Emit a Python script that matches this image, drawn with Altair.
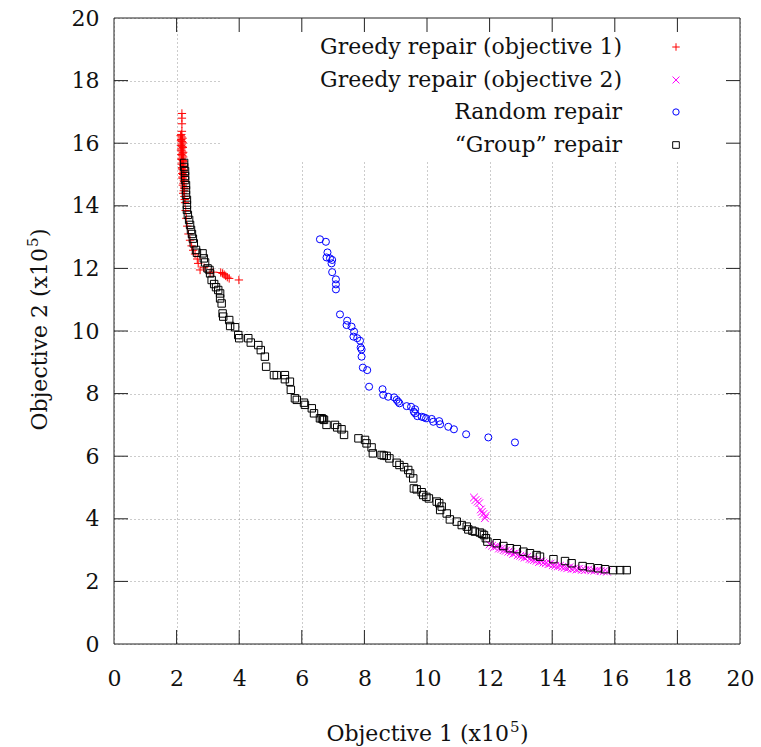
import altair as alt
import pandas as pd

# Pareto fronts (both objectives in units of 1e5)
greedy_obj1 = [
    (2.17, 16.95), (2.17, 16.80), (2.17, 16.62), (2.17, 16.38), (2.15, 16.28), (2.16, 16.20),
    (2.15, 16.12), (2.17, 16.05), (2.16, 15.97), (2.18, 15.90), (2.15, 15.82), (2.17, 15.75),
    (2.19, 15.68), (2.18, 15.60), (2.16, 15.52), (2.20, 15.45), (2.19, 15.37), (2.21, 15.30),
    (2.18, 15.22), (2.20, 15.15), (2.22, 15.07), (2.21, 15.00), (2.19, 14.92), (2.23, 14.82),
    (2.22, 14.72), (2.24, 14.60), (2.23, 14.48), (2.25, 14.30), (2.27, 14.10), (2.29, 13.85),
    (2.31, 13.60), (2.34, 13.35), (2.38, 13.10), (2.43, 12.90), (2.48, 12.72), (2.53, 12.58),
    (2.59, 12.46), (2.66, 12.30), (2.69, 12.16), (2.75, 11.95), (2.88, 12.02), (3.07, 11.86),
    (3.17, 11.88), (3.41, 11.87), (3.47, 11.84), (3.52, 11.80), (3.57, 11.76), (3.62, 11.72),
    (3.68, 11.68), (3.99, 11.63),
    (2.13, 16.24), (2.19, 16.16), (2.14, 16.08), (2.20, 16.01), (2.14, 15.93), (2.20, 15.86),
    (2.14, 15.78), (2.21, 15.71), (2.15, 15.64), (2.21, 15.56), (2.16, 15.48), (2.22, 15.41),
    (2.16, 15.33), (2.23, 15.26), (2.17, 15.18), (2.23, 15.11), (2.18, 15.03), (2.24, 14.96),
    (2.19, 14.88), (2.24, 14.78), (2.20, 14.66), (2.25, 14.55), (2.21, 14.40), (2.26, 14.20),
]

greedy_obj2 = [
    (11.50, 4.68), (11.55, 4.60), (11.62, 4.55), (11.67, 4.50), (11.72, 4.30), (11.75, 4.22),
    (11.80, 4.15), (11.88, 4.10), (11.85, 4.02),
    (12.00, 3.18), (12.08, 3.14), (12.15, 3.10), (12.22, 3.12), (12.30, 3.05), (12.38, 3.04),
    (12.45, 3.00), (12.52, 2.98), (12.60, 2.95), (12.68, 2.93), (12.75, 2.88), (12.82, 2.90),
    (12.90, 2.84), (12.98, 2.82), (13.05, 2.80), (13.12, 2.76), (13.20, 2.78), (13.28, 2.72),
    (13.35, 2.70), (13.42, 2.68), (13.50, 2.66), (13.58, 2.62), (13.65, 2.64), (13.72, 2.60),
    (13.80, 2.58), (13.88, 2.55), (13.95, 2.57), (14.02, 2.52), (14.10, 2.50), (14.18, 2.48),
    (14.25, 2.50), (14.32, 2.46), (14.40, 2.44), (14.48, 2.42), (14.55, 2.45), (14.62, 2.40),
    (14.70, 2.41), (14.78, 2.38), (14.85, 2.40), (14.95, 2.37), (15.05, 2.36), (15.15, 2.38),
    (15.25, 2.35), (15.35, 2.34), (15.45, 2.36), (15.55, 2.33), (15.65, 2.32), (15.75, 2.31),
]

random_repair = [
    (6.58, 12.93), (6.77, 12.85), (6.82, 12.51), (6.79, 12.35), (6.90, 12.32), (6.97, 12.27),
    (6.95, 12.16), (6.97, 11.88), (7.09, 11.65), (7.09, 11.49), (7.09, 11.33), (7.22, 10.53),
    (7.45, 10.33), (7.43, 10.19), (7.59, 10.14), (7.67, 9.98), (7.65, 9.82), (7.77, 9.77),
    (7.86, 9.69), (7.88, 9.47), (7.91, 9.41), (7.91, 9.18), (7.95, 8.83), (8.09, 8.75),
    (8.15, 8.22), (8.58, 8.14), (8.60, 7.96), (8.76, 7.90), (8.95, 7.88), (9.03, 7.80),
    (9.08, 7.74), (9.12, 7.69), (9.35, 7.60), (9.49, 7.58), (9.62, 7.50), (9.58, 7.42),
    (9.62, 7.37), (9.69, 7.28), (9.83, 7.26), (9.90, 7.24), (9.97, 7.21), (10.15, 7.19),
    (10.20, 7.10), (10.39, 7.12), (10.42, 7.02), (10.68, 6.94), (10.86, 6.86), (11.25, 6.70),
    (11.96, 6.60), (12.81, 6.44),
]

group_repair = [
    (2.24, 15.37), (2.24, 15.24), (2.27, 15.11), (2.27, 14.95), (2.27, 14.82), (2.30, 14.66),
    (2.30, 14.50), (2.30, 14.35), (2.33, 14.19), (2.33, 14.03), (2.33, 13.87), (2.36, 13.71),
    (2.40, 13.55), (2.43, 13.39), (2.46, 13.23), (2.49, 13.10), (2.52, 12.95), (2.55, 12.80),
    (2.62, 12.59), (2.65, 12.50), (2.83, 12.48), (2.87, 12.32), (2.91, 12.19), (2.99, 12.00),
    (3.05, 11.95), (3.07, 11.84), (3.12, 11.63), (3.20, 11.50), (3.26, 11.40), (3.33, 11.31),
    (3.39, 11.20), (3.39, 11.04), (3.44, 10.88), (3.47, 10.56), (3.49, 10.46), (3.68, 10.35),
    (3.71, 10.16), (3.87, 10.12), (3.97, 9.87), (4.00, 9.77), (4.29, 9.77), (4.37, 9.63),
    (4.61, 9.55), (4.69, 9.39), (4.82, 9.18), (4.86, 8.86), (5.11, 8.59), (5.20, 8.59),
    (5.46, 8.59), (5.46, 8.46), (5.62, 8.38), (5.65, 8.12), (5.78, 7.85), (5.84, 7.80),
    (6.07, 7.71), (6.10, 7.64), (6.32, 7.53), (6.39, 7.37), (6.58, 7.21), (6.64, 7.21),
    (6.68, 7.18), (6.71, 7.16), (6.79, 7.00), (7.06, 7.00), (7.13, 6.92), (7.27, 6.86),
    (7.35, 6.68), (7.81, 6.57), (8.02, 6.52), (8.07, 6.41), (8.23, 6.28), (8.27, 6.09),
    (8.55, 6.04), (8.62, 6.02), (8.71, 6.01), (8.80, 5.93), (9.03, 5.79), (9.12, 5.72),
    (9.27, 5.65), (9.40, 5.56), (9.46, 5.45), (9.56, 5.29), (9.58, 4.97), (9.67, 4.94),
    (9.83, 4.85), (9.88, 4.76), (9.98, 4.70), (10.06, 4.65), (10.31, 4.55), (10.39, 4.50),
    (10.47, 4.39), (10.42, 4.28), (10.63, 4.17), (10.73, 3.98), (10.95, 3.91), (11.11, 3.80),
    (11.27, 3.75), (11.32, 3.66), (11.45, 3.62), (11.53, 3.59), (11.69, 3.56), (11.76, 3.52),
    (11.82, 3.48), (11.88, 3.38), (11.93, 3.27), (12.23, 3.22), (12.44, 3.13), (12.65, 3.06),
    (12.87, 3.03), (13.08, 2.95), (13.29, 2.90), (13.50, 2.84), (13.61, 2.79), (14.04, 2.71),
    (14.41, 2.65), (14.62, 2.58), (14.97, 2.49), (15.21, 2.45), (15.47, 2.42), (15.69, 2.39),
    (15.95, 2.36), (16.17, 2.36), (16.38, 2.36),
]

series_names = [
    "Greedy repair (objective 1)",
    "Greedy repair (objective 2)",
    "Random repair",
    "\u201cGroup\u201d repair",
]
series_points = [greedy_obj1, greedy_obj2, random_repair, group_repair]
series_colors = ["#ff0000", "#ff00ff", "#0000ff", "#000000"]
series_shapes = [
    "M-1,0L1,0M0,-1L0,1",      # plus
    "M-1,-1L1,1M-1,1L1,-1",    # cross
    "circle",
    "square",
]
series_sizes = [70, 60, 50, 55]
tick_values = [2, 4, 6, 8, 10, 12, 14, 16, 18]

FONT = "DejaVu Serif"
W, H = 626, 626
TICK = 14

rows = []
for name, pts in zip(series_names, series_points):
    for x, y in pts:
        rows.append({"series": name, "obj1": x, "obj2": y})
df = pd.DataFrame(rows)
ticks_df = pd.DataFrame({"t": tick_values})

xscale = alt.Scale(domain=[0, 20], nice=False, zero=False)
yscale = alt.Scale(domain=[0, 20], nice=False, zero=False)

# opaque key box over the grid
key_box = alt.Chart(ticks_df).mark_rect(fill="white", stroke=None).encode(
    x=alt.value(106), x2=alt.value(W), y=alt.value(0), y2=alt.value(143)
)

layers = [key_box]
for name, color, shape, size in zip(series_names, series_colors, series_shapes, series_sizes):
    pts = alt.Chart(df[df["series"] == name]).mark_point(
        shape=shape, filled=False, color=color, strokeWidth=1, size=size, opacity=1
    ).encode(
        x=alt.X("obj1:Q", scale=xscale,
                axis=alt.Axis(values=list(range(0, 21, 2)), title=None,
                              labelPadding=24, labelFlush=False)),
        y=alt.Y("obj2:Q", scale=yscale,
                axis=alt.Axis(values=list(range(0, 21, 2)), title=None,
                              labelPadding=15, labelFlush=False)),
    )
    layers.append(pts)

# inward tick marks on all four sides
tick_style = dict(color="#222", strokeWidth=1)
layers.append(alt.Chart(ticks_df).mark_rule(**tick_style).encode(
    x=alt.X("t:Q", scale=xscale), y=alt.value(H), y2=alt.value(H - TICK)))
layers.append(alt.Chart(ticks_df).mark_rule(**tick_style).encode(
    x=alt.X("t:Q", scale=xscale), y=alt.value(0), y2=alt.value(TICK)))
layers.append(alt.Chart(ticks_df).mark_rule(**tick_style).encode(
    y=alt.Y("t:Q", scale=yscale), x=alt.value(0), x2=alt.value(TICK)))
layers.append(alt.Chart(ticks_df).mark_rule(**tick_style).encode(
    y=alt.Y("t:Q", scale=yscale), x=alt.value(W), x2=alt.value(W - TICK)))

# plot border drawn above everything else
layers.append(alt.Chart(ticks_df.head(1)).mark_rect(
    fillOpacity=0, stroke="#222", strokeWidth=1
).encode(x=alt.value(0), x2=alt.value(W), y=alt.value(0), y2=alt.value(H)))

# axis titles with a real superscript exponent
title_style = dict(font=FONT, color="#111", baseline="alphabetic")
one_row = pd.DataFrame({"k": [0]})
# x title: "Objective 1 (x10" + raised "5" + ")"
XJ, XB = 395, 723
layers.append(alt.Chart(one_row).mark_text(align="right", fontSize=22, **title_style,
    text="Objective 1 (x10").encode(x=alt.value(XJ), y=alt.value(XB)))
layers.append(alt.Chart(one_row).mark_text(align="left", fontSize=15, **title_style,
    text="5").encode(x=alt.value(XJ + 1), y=alt.value(XB - 9)))
layers.append(alt.Chart(one_row).mark_text(align="left", fontSize=22, **title_style,
    text=")").encode(x=alt.value(XJ + 11), y=alt.value(XB)))
# y title, rotated to read bottom-to-top
YJ, YB = 230, -67
layers.append(alt.Chart(one_row).mark_text(align="right", fontSize=22, angle=270,
    **title_style, text="Objective 2 (x10").encode(x=alt.value(YB), y=alt.value(YJ)))
layers.append(alt.Chart(one_row).mark_text(align="left", fontSize=15, angle=270,
    **title_style, text="5").encode(x=alt.value(YB - 9), y=alt.value(YJ - 1)))
layers.append(alt.Chart(one_row).mark_text(align="left", fontSize=22, angle=270,
    **title_style, text=")").encode(x=alt.value(YB), y=alt.value(YJ - 11)))

# key entries: right-aligned text with the sample symbol on its right
key_rows = [29, 62, 94, 127]
for name, color, shape, size, ky in zip(series_names, series_colors, series_shapes,
                                        series_sizes, key_rows):
    one = pd.DataFrame({"label": [name]})
    layers.append(alt.Chart(one).mark_text(
        align="right", baseline="middle", font=FONT, fontSize=22, color="#111"
    ).encode(text="label:N", x=alt.value(508), y=alt.value(ky)))
    layers.append(alt.Chart(one).mark_point(
        shape=shape, filled=False, color=color, strokeWidth=1, size=size * 0.8, opacity=1
    ).encode(x=alt.value(562), y=alt.value(ky)))

chart = alt.layer(*layers).properties(
    width=W, height=H,
    autosize=alt.AutoSizeParams(type="none"),
    padding={"left": 114, "top": 18, "right": 21, "bottom": 103},
    background="white",
).configure_view(
    stroke=None
).configure_axis(
    domain=False, ticks=False, grid=True,
    gridColor="#999", gridDash=[1, 3], gridWidth=1,
    labelFont=FONT, labelFontSize=22, labelColor="#111",
    zindex=0,
)

chart.save("out.html", embed_options={"renderer": "svg", "actions": False})
